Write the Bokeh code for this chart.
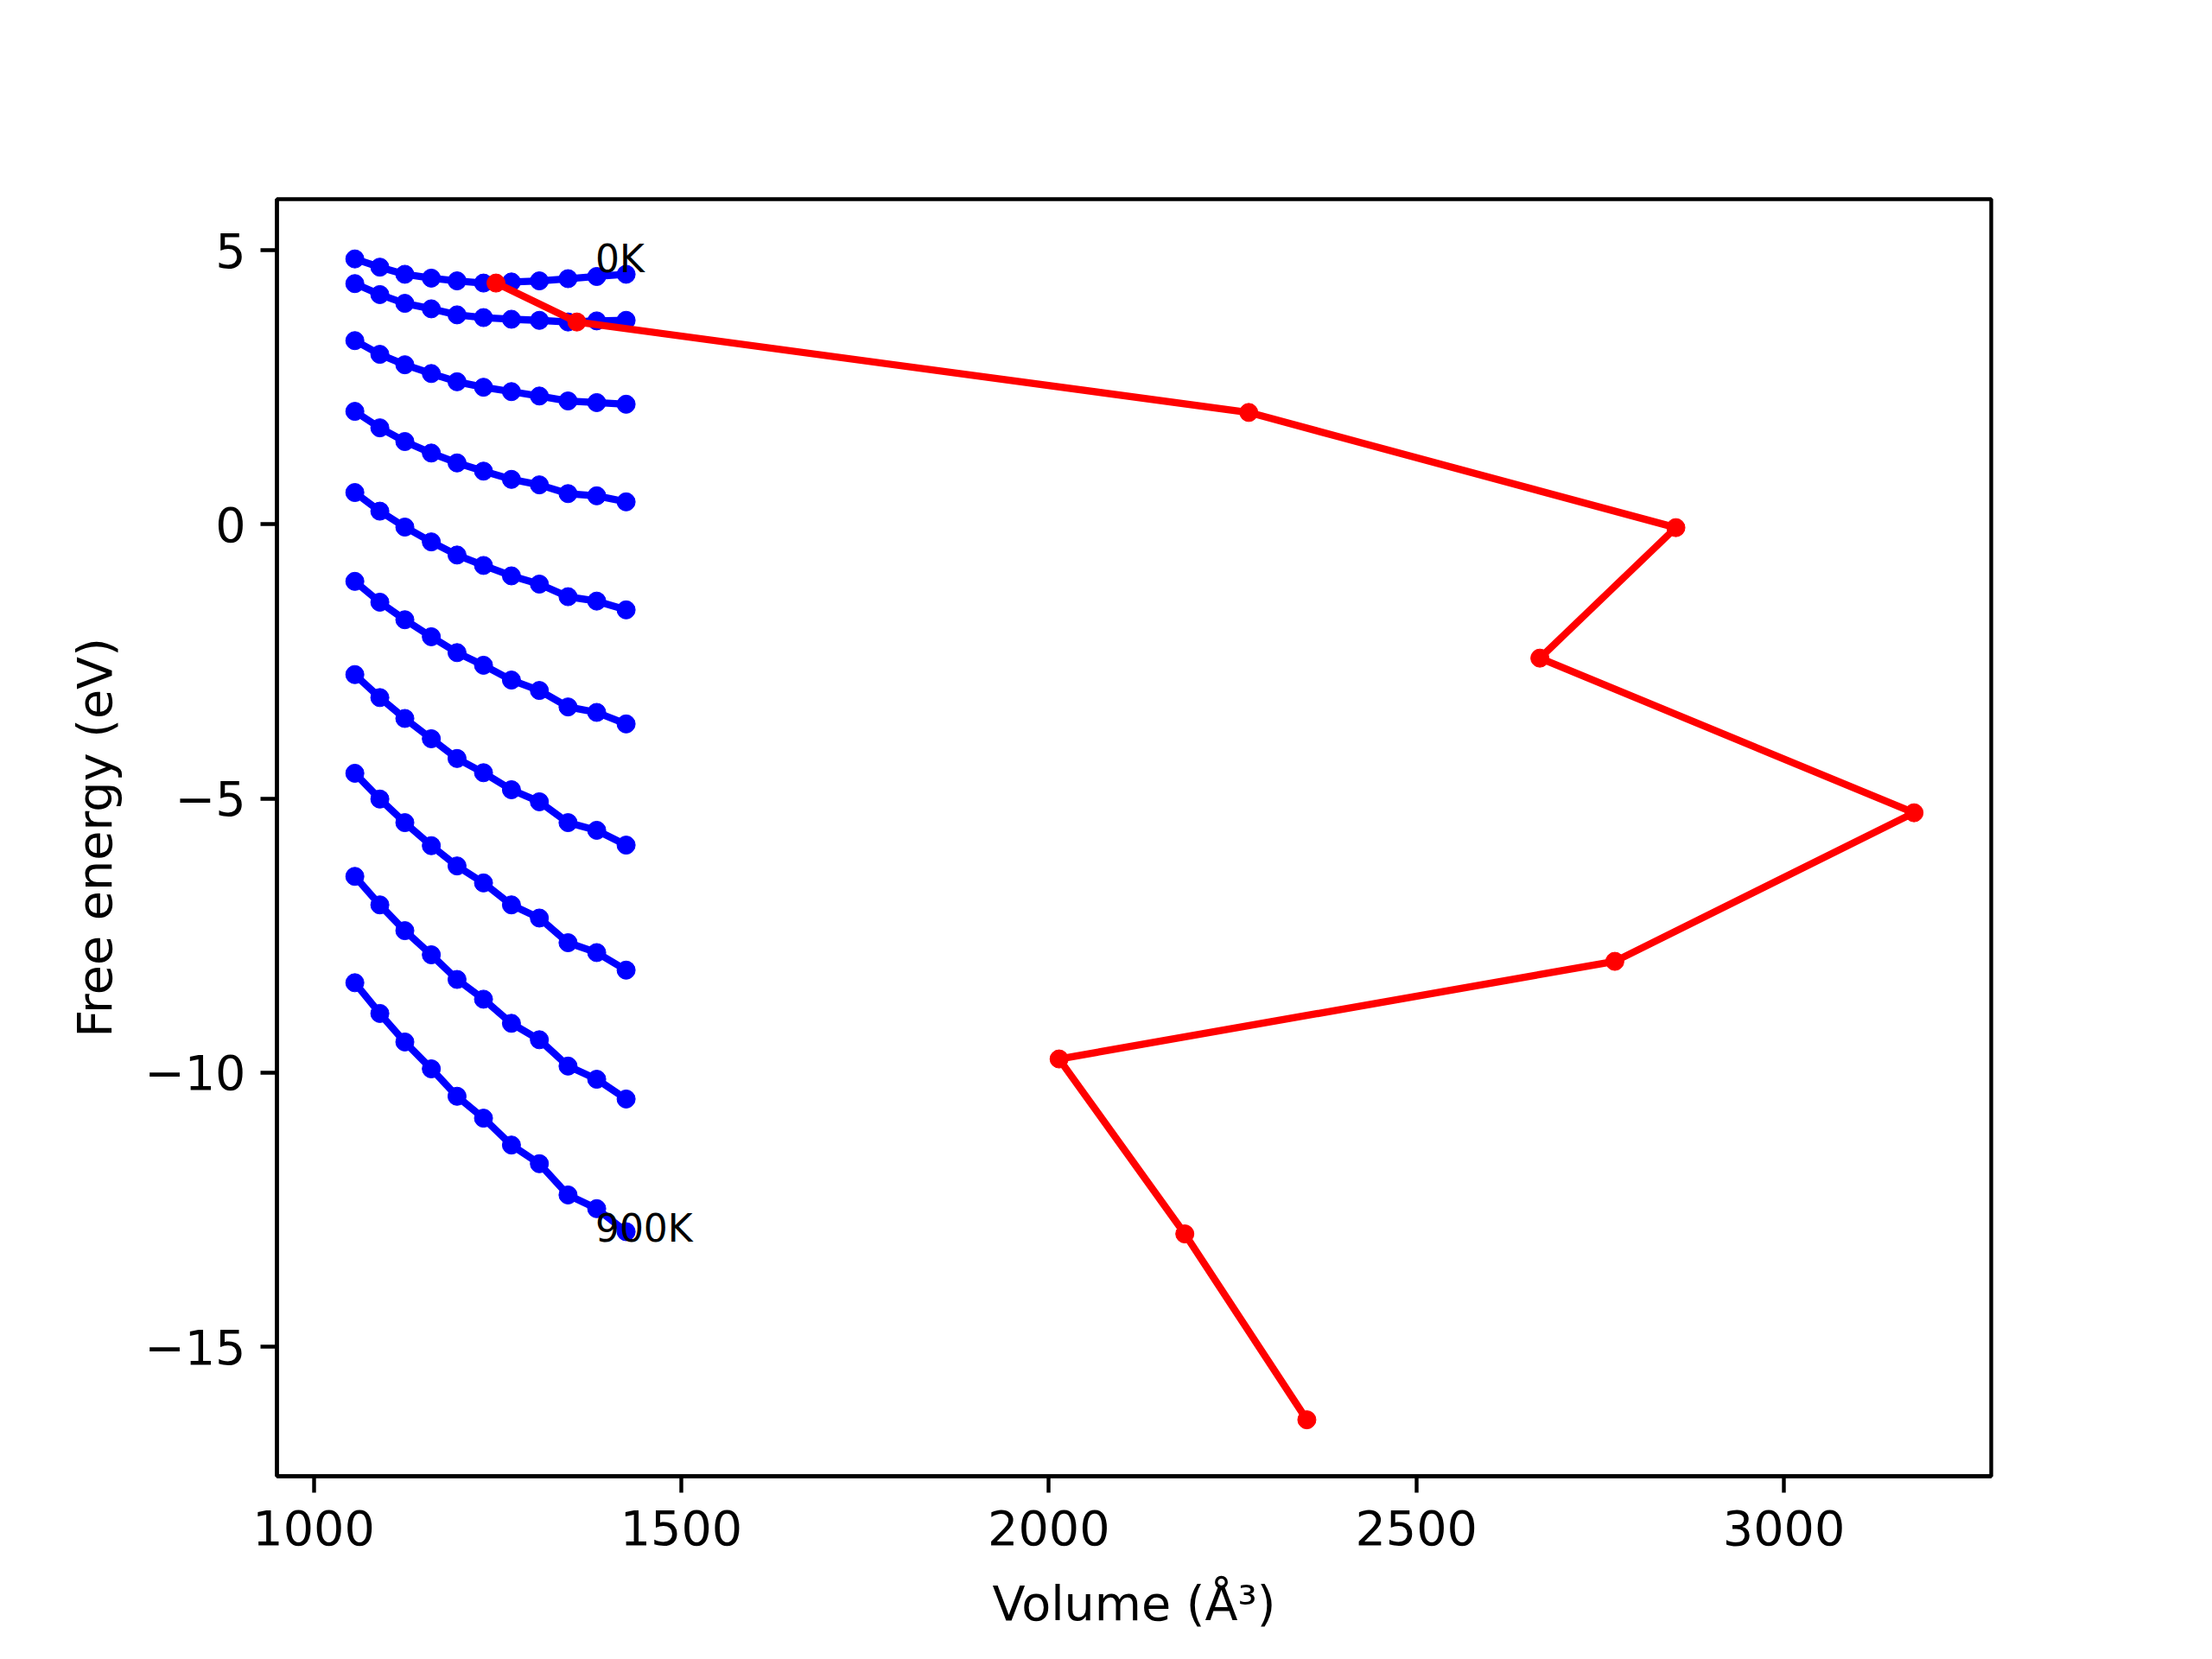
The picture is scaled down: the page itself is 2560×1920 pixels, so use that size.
from bokeh.plotting import figure
from bokeh.models import Range1d, FixedTicker
from bokeh.embed import file_html
from bokeh.resources import INLINE
from bokeh.core.properties import value

# Volumes (Å^3) of the sampled points, shared by all temperature curves
volumes = [1056, 1090, 1124, 1160, 1195, 1231, 1269, 1307, 1346, 1385, 1425]

temperatures = ["0K", "100K", "200K", "300K", "400K", "500K", "600K", "700K", "800K", "900K"]

f_0K = [4.84, 4.69, 4.56, 4.49, 4.44, 4.40, 4.42, 4.44, 4.48, 4.52, 4.56]
f_100K = [4.39, 4.19, 4.03, 3.93, 3.82, 3.77, 3.74, 3.72, 3.69, 3.71, 3.72]
f_200K = [3.35, 3.10, 2.91, 2.75, 2.60, 2.50, 2.42, 2.34, 2.25, 2.22, 2.19]
f_300K = [2.06, 1.76, 1.51, 1.30, 1.12, 0.97, 0.82, 0.72, 0.56, 0.52, 0.41]
f_400K = [0.58, 0.24, -0.05, -0.32, -0.56, -0.75, -0.94, -1.09, -1.32, -1.40, -1.56]
f_500K = [-1.04, -1.42, -1.74, -2.05, -2.34, -2.57, -2.84, -3.03, -3.33, -3.43, -3.64]
f_600K = [-2.74, -3.16, -3.54, -3.91, -4.27, -4.53, -4.84, -5.06, -5.44, -5.58, -5.85]
f_700K = [-4.54, -5.01, -5.44, -5.86, -6.23, -6.54, -6.94, -7.18, -7.63, -7.81, -8.13]
f_800K = [-6.42, -6.94, -7.41, -7.85, -8.30, -8.66, -9.10, -9.40, -9.88, -10.12, -10.48]
f_900K = [-8.36, -8.92, -9.44, -9.93, -10.43, -10.83, -11.32, -11.66, -12.23, -12.48, -12.90]

curves = [f_0K, f_100K, f_200K, f_300K, f_400K, f_500K, f_600K, f_700K, f_800K, f_900K]

# Equilibrium points (red path)
eq_volume = [1248, 1358, 2272, 2853, 2668, 3177, 2770, 2014, 2185, 2351]
eq_energy = [4.40, 3.69, 2.04, -0.06, -2.44, -5.26, -7.97, -9.75, -12.94, -16.33]

# Curve annotations
label_text = ["0K", "900K"]
label_x = [1383, 1383]
label_y = [4.85, -12.83]

x_ticks = [1000, 1500, 2000, 2500, 3000]
y_ticks = [-15, -10, -5, 0, 5]

FONT = "DejaVu Sans"

p = figure(width=2552, height=1912, output_backend="svg", toolbar_location=None,
           x_range=Range1d(950, 3282), y_range=Range1d(-17.36, 5.93))
p.min_border_left = 320
p.min_border_right = 248
p.min_border_top = 230
p.min_border_bottom = 204
p.background_fill_color = "white"
p.border_fill_color = "white"
p.outline_line_color = "black"
p.outline_line_width = 4.4
p.grid.visible = False

for ys in curves:
    p.line(volumes, ys, line_color="#0000ff", line_width=8.3)
    p.scatter(volumes, ys, size=21, fill_color="#0000ff", line_color="#0000ff")

p.line(eq_volume, eq_energy, line_color="#ff0000", line_width=8.3)
p.scatter(eq_volume, eq_energy, size=21, fill_color="#ff0000", line_color="#ff0000")

p.text(x=label_x, y=label_y, text=label_text, text_font=value(FONT),
       text_font_size="44px", text_color="black",
       text_align="left", text_baseline="alphabetic")

for ax, ticks in ((p.xaxis[0], x_ticks), (p.yaxis[0], y_ticks)):
    ax.ticker = FixedTicker(ticks=ticks)
    ax.major_label_overrides = {t: (str(t).replace("-", "\u2212")) for t in ticks}
    ax.major_label_text_font = FONT
    ax.major_label_text_font_size = "55.6px"
    ax.major_label_text_color = "black"
    ax.major_tick_out = 19
    ax.major_tick_in = 0
    ax.major_tick_line_width = 4.4
    ax.major_tick_line_color = "black"
    ax.minor_tick_out = 0
    ax.minor_tick_in = 0
    ax.axis_line_width = 4.4
    ax.axis_line_color = "black"
    ax.major_label_standoff = 17
    ax.axis_label_text_font = FONT
    ax.axis_label_text_font_size = "55.6px"
    ax.axis_label_text_font_style = "normal"
    ax.axis_label_text_color = "black"
    ax.axis_label_standoff = 22

p.xaxis[0].major_label_standoff = 20
p.xaxis[0].axis_label_standoff = 32
p.xaxis[0].axis_label = "Volume (Å³)"
p.yaxis[0].axis_label = "Free energy (eV)"

open("out.html", "w").write(file_html(p, INLINE))
